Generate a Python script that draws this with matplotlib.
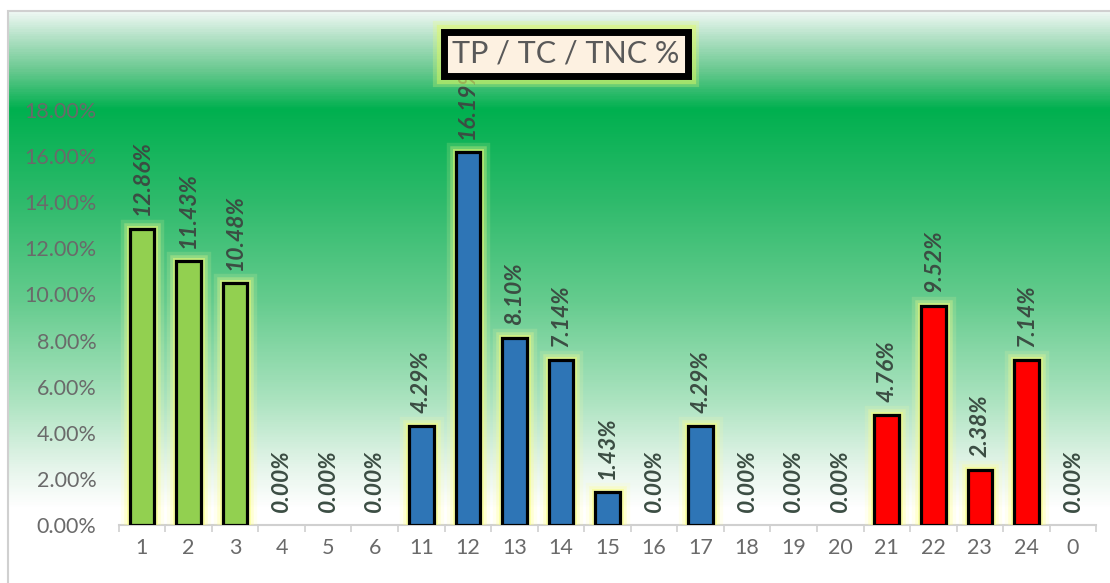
import matplotlib
matplotlib.use("Agg")
import matplotlib.pyplot as plt
import matplotlib.patheffects as pe
from matplotlib.colors import LinearSegmentedColormap
from matplotlib.patches import Rectangle
import numpy as np

plt.rcParams['font.family'] = ['Lato', 'DejaVu Sans']

# bar values (percent) per hour-code category
categories = ['1', '2', '3', '4', '5', '6', '11', '12', '13', '14', '15',
              '16', '17', '18', '19', '20', '21', '22', '23', '24', '0']
values = [12.86, 11.43, 10.48, 0.00, 0.00, 0.00, 4.29, 16.19, 8.10, 7.14, 1.43,
          0.00, 4.29, 0.00, 0.00, 0.00, 4.76, 9.52, 2.38, 7.14, 0.00]
groups = ['TP'] * 6 + ['TC'] * 10 + ['TNC'] * 5
group_colors = {'TP': '#92D050', 'TC': '#2E75B6', 'TNC': '#FF0000'}
yticks = [0, 2, 4, 6, 8, 10, 12, 14, 16, 18]
title = 'TP / TC / TNC %'

W, H = 1110, 583
fig = plt.figure(figsize=(W / 100, H / 100), dpi=100)
fig.patch.set_facecolor('white')

# vertical green background gradient inside the chart frame
bg = fig.add_axes([8 / W, 0, 1 - 8 / W, (H - 11) / H], zorder=-5)
stops = [(0.00, (0.93, 0.97, 0.95)),
         (0.04, (0.72, 0.89, 0.79)),
         (0.10, (0.42, 0.79, 0.57)),
         (0.17, (0.00, 0.69, 0.31)),
         (0.33, (0.18, 0.73, 0.42)),
         (0.51, (0.40, 0.80, 0.56)),
         (0.68, (0.67, 0.89, 0.75)),
         (0.80, (0.90, 0.96, 0.92)),
         (0.87, (1.00, 1.00, 1.00)),
         (1.00, (1.00, 1.00, 1.00))]
cmap = LinearSegmentedColormap.from_list('bggrad', stops)
grad = np.linspace(0, 1, 600).reshape(-1, 1)
bg.imshow(grad, aspect='auto', cmap=cmap, extent=[0, 1, 1, 0])
bg.set_xlim(0, 1)
bg.set_ylim(1, 0)
bg.axis('off')
fig.add_artist(Rectangle((8 / W, -0.01), 1, (H - 11) / H + 0.01, transform=fig.transFigure,
                         fill=False, edgecolor='#d0d0d0', linewidth=1.5, zorder=-4))

ax = fig.add_axes([118.7 / W, (H - 525) / H, (1096.3 - 118.7) / W, (525 - 110) / H])
ax.patch.set_alpha(0)

x = np.arange(len(categories))
glow = [pe.Stroke(linewidth=14, foreground='#ffffa0', alpha=0.15),
        pe.Stroke(linewidth=9, foreground='#ffff88', alpha=0.28),
        pe.Stroke(linewidth=5, foreground='#f8ff70', alpha=0.45),
        pe.Normal()]
bars = ax.bar(x, values, width=0.53, color=[group_colors[g] for g in groups],
              edgecolor='black', linewidth=2.3, zorder=3)
for b, v in zip(bars, values):
    if v > 0:
        b.set_path_effects(glow)
    else:
        b.set_visible(False)

for xi, v in zip(x, values):
    ax.annotate(f'{v:.2f}%', (xi, v), xytext=(0, 9.5), textcoords='offset points',
                rotation=90, ha='center', va='bottom', fontsize=16.5,
                fontweight='bold', fontstyle='italic', color='#3b4d43', zorder=4)

ax.set_xlim(-0.5, len(categories) - 0.5)
ax.set_ylim(0, 18)
ax.set_yticks(yticks)
ax.set_yticklabels([f'{t:.2f}%' for t in yticks])
ax.set_xticks(x)
ax.set_xticklabels(categories)
ax.set_xticks(np.arange(-0.5, len(categories)), minor=True)
for s in ['top', 'right', 'left']:
    ax.spines[s].set_visible(False)
ax.spines['bottom'].set_color('#d0d0d0')
ax.spines['bottom'].set_linewidth(1.5)
ax.tick_params(axis='y', length=0, pad=16, labelsize=15.5, labelcolor='#6a6a6a')
ax.tick_params(axis='x', which='major', length=0, pad=9, labelsize=15.5, labelcolor='#6a6a6a')
ax.tick_params(axis='x', which='minor', length=5, width=1.2, color='#d0d0d0')

t = fig.text(566 / W, 1 - 54 / H, title, ha='center', va='center', fontsize=22,
             color='#595959', zorder=10,
             bbox=dict(boxstyle='square,pad=0.26', facecolor='#fdf1e1',
                       edgecolor='black', linewidth=5))
t.get_bbox_patch().set_path_effects([
    pe.Stroke(linewidth=16, foreground='#e8ff70', alpha=0.25),
    pe.Stroke(linewidth=11, foreground='#e0fa60', alpha=0.45),
    pe.Normal()])

fig.savefig('out.png', dpi=100)
